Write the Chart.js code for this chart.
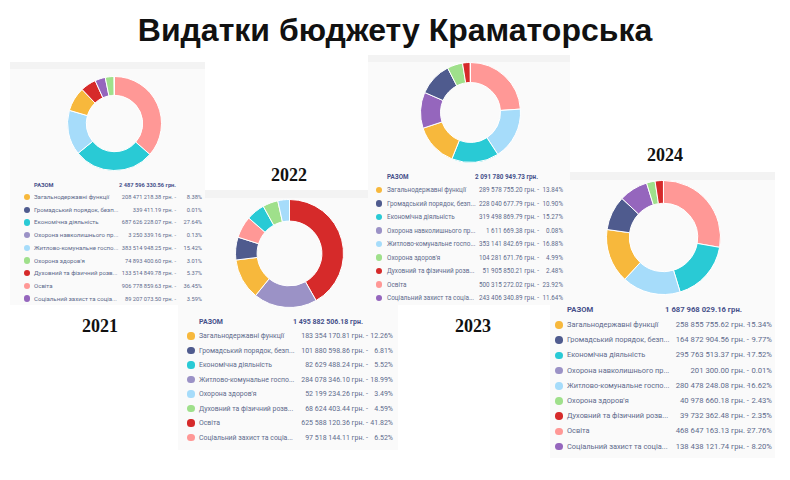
<!DOCTYPE html>
<html><head><meta charset="utf-8">
<script src="https://cdn.jsdelivr.net/npm/chart.js@4"></script>
<style>
html,body{margin:0;padding:0;background:#fff;width:790px;height:480px;overflow:hidden;position:relative;}
#title{position:absolute;left:0;width:790px;top:12px;text-align:center;font:bold 32px "Liberation Sans",Arial,sans-serif;color:#111;}
.year{position:absolute;font:bold 18px "Liberation Serif",serif;color:#111;transform:translate(-50%,-50%);white-space:nowrap;}
.card{position:absolute;background:#fafafa;overflow:hidden;}
.band{position:absolute;left:0;right:0;top:0;background:#f3f3f3;}
.t{position:absolute;white-space:nowrap;font-family:Roboto,"Liberation Sans",sans-serif;color:#606a8c;line-height:10px;height:10px;margin-top:-5px;}
.b{font-weight:bold;color:#46508a;}
.r{text-align:right;}
.dot{position:absolute;border-radius:50%;}
canvas{position:absolute;}
</style></head>
<body>
<div id="title">Видатки бюджету Краматорська</div>
<script>
// ---- data ----
const palette = ['#f7b83c','#4f5b8e','#29cad5','#9b92c6','#a6dcfa','#9fe08b','#d62a2a','#ff9896','#9566bd'];
const years = ['2021','2022','2023','2024'];

const labels2021 = ['Загальнодержавні функції','Громадський порядок, безп...','Економічна діяльність','Охорона навколишнього пр...','Житлово-комунальне госпо...',"Охорона здоров'я",'Духовний та фізичний розв...','Освіта','Соціальний захист та соціа...'];
const values2021 = [208471218.38, 339411.19, 687626228.07, 3250339.16, 383514948.25, 74893400.60, 133514849.78, 906778859.63, 89207073.50];
const pct2021 = ['8.38','0.01','27.64','0.13','15.42','3.01','5.37','36.45','3.59'];
const total2021 = 2487596330.56;

const labels2022 = ['Загальнодержавні функції','Громадський порядок, безп...','Економічна діяльність','Житлово-комунальне госпо...',"Охорона здоров'я",'Духовний та фізичний розв...','Освіта','Соціальний захист та соціа...'];
const values2022 = [183354170.81, 101880598.86, 82629488.24, 284078346.10, 52199234.26, 68624403.44, 625588120.36, 97518144.11];
const pct2022 = ['12.26','6.81','5.52','18.99','3.49','4.59','41.82','6.52'];
const total2022 = 1495882506.18;

const labels2023 = labels2021;
const values2023 = [289578755.20, 228040677.79, 319498869.79, 1611669.38, 353141842.69, 104281671.76, 51905850.21, 500315272.02, 243406340.89];
const pct2023 = ['13.84','10.90','15.27','0.08','16.88','4.99','2.48','23.92','11.64'];
const total2023 = 2091780949.73;

const labels2024 = labels2021;
const values2024 = [258855755.62, 164872904.56, 295763513.37, 201300.00, 280478248.08, 40978660.18, 39732362.48, 468647163.13, 138438121.74];
const pct2024 = ['15.34','9.77','17.52','0.01','16.62','2.43','2.35','27.76','8.20'];
const total2024 = 1687968029.16;

// ---- layout (positions / sizes only) ----
const panels = [
  {year:'2021', labels:labels2021, values:values2021, pct:pct2021, total:total2021,
   cx:114, cy:123, r:47, card:[10,62,205,305], yl:[100,326], z:4,
   totY:185, rowY:197, rowH:12.7, dotX:27, dotR:3.2, lx:34, lf:6.1, nf:5.7, vr:176, pr:202, tr:176},
  {year:'2022', labels:labels2022, values:values2022, pct:pct2022, total:total2022,
   cx:289, cy:253, r:54, card:[178,190,398,450], yl:[289,175], z:1,
   totY:322, rowY:336, rowH:14.5, dotX:191, dotR:3.6, lx:199, lf:6.9, nf:7.0, vr:368, pr:393, tr:363},
  {year:'2023', labels:labels2023, values:values2023, pct:pct2023, total:total2023,
   cx:470, cy:112, r:50, card:[368,55,570,305], yl:[473,326], z:3,
   totY:177, rowY:190, rowH:13.5, dotX:379, dotR:3.4, lx:387, lf:6.4, nf:6.3, vr:539, pr:563, tr:538},
  {year:'2024', labels:labels2024, values:values2024, pct:pct2024, total:total2024,
   cx:663, cy:237, r:57, card:[550,172,775,458], yl:[665,155], z:2,
   totY:310, rowY:325, rowH:15.2, dotX:559, dotR:3.8, lx:567, lf:7.4, nf:7.7, vr:749, pr:772, tr:742}
];

function fmt(v){
  const [i,d] = v.toFixed(2).split('.');
  return i.replace(/\B(?=(\d{3})+(?!\d))/g,' ') + '.' + d;
}
function el(tag, cls, parent){const e=document.createElement(tag); if(cls) e.className=cls; parent.appendChild(e); return e;}
function text(cls, str, x, y, fs, z, right){
  const e = el('div', cls, document.body);
  e.textContent = str;
  e.style.fontSize = fs+'px';
  e.style.top = y+'px';
  e.style.zIndex = z;
  if(right){ e.style.right = (790 - x)+'px'; } else { e.style.left = x+'px'; }
  return e;
}

panels.forEach(p=>{
  const card = el('div','card',document.body);
  const [x0,y0,x1,y1] = p.card;
  Object.assign(card.style,{left:x0+'px',top:y0+'px',width:(x1-x0)+'px',height:(y1-y0)+'px',zIndex:p.z});
  const band = el('div','band',card); band.style.height = (p.r/7)+'px';

  const yl = el('div','year',document.body); yl.textContent = p.year;
  yl.style.left = p.yl[0]+'px'; yl.style.top = p.yl[1]+'px';

  // doughnut
  const size = Math.round(2*p.r+1);
  const cv = el('canvas','',document.body);
  cv.width = size; cv.height = size;
  cv.style.left = (p.cx - size/2)+'px'; cv.style.top = (p.cy - size/2)+'px';
  cv.style.width = size+'px'; cv.style.height = size+'px';
  cv.style.zIndex = p.z;
  const order = p.values.map((v,i)=>i).sort((a,b)=>p.values[b]-p.values[a]);
  new Chart(cv, {
    type:'doughnut',
    data:{labels:order.map(i=>p.labels[i]), datasets:[{data:order.map(i=>p.values[i]), backgroundColor:order.map(i=>palette[i]), borderColor:'#ffffff', borderWidth:1}]},
    options:{responsive:false, animation:false, cutout:'60%', layout:{padding:0},
      plugins:{legend:{display:false}, tooltip:{enabled:false}}}
  });

  // legend table
  text('t b','РАЗОМ', p.lx, p.totY, p.nf, p.z, false);
  text('t b r', fmt(p.total)+' грн.', p.tr, p.totY, p.nf, p.z, true);
  p.labels.forEach((lab,i)=>{
    const y = p.rowY + i*p.rowH;
    const d = el('div','dot',document.body);
    Object.assign(d.style,{left:(p.dotX-p.dotR)+'px',top:(y-p.dotR)+'px',width:(2*p.dotR)+'px',height:(2*p.dotR)+'px',background:palette[i],zIndex:p.z});
    text('t', lab, p.lx, y, p.lf, p.z, false);
    text('t r', fmt(p.values[i])+' грн. -', p.vr, y, p.nf, p.z, true);
    text('t r', p.pct[i]+'%', p.pr, y, p.nf, p.z, true);
  });
});
</script>
</body></html>
